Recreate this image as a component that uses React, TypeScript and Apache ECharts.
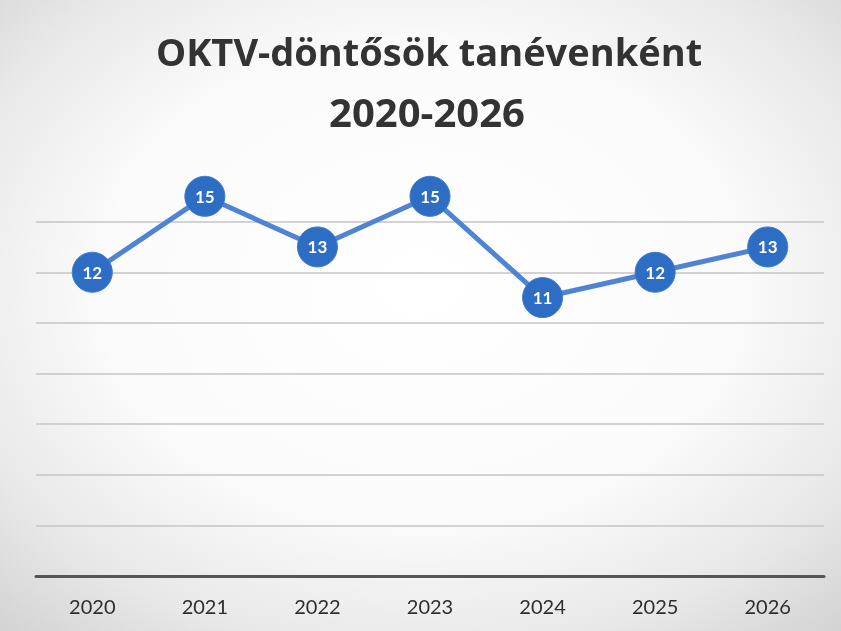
import React, { useEffect, useRef } from "react";
import * as echarts from "echarts";

const categories = ["2020", "2021", "2022", "2023", "2024", "2025", "2026"];
const values = [12, 15, 13, 15, 11, 12, 13];
const titleLines = ["OKTV-döntősök tanévenként", "2020-2026"];

export default function App() {
  const ref = useRef<HTMLDivElement>(null);
  useEffect(() => {
    if (!ref.current) return;
    const chart = echarts.init(ref.current, null, { renderer: "svg" });
    chart.setOption({
      animation: false,
      backgroundColor: {
        type: "radial",
        x: 0.5,
        y: 0.45,
        r: 0.75,
        colorStops: [
          { offset: 0, color: "#ffffff" },
          { offset: 0.5, color: "#fbfbfb" },
          { offset: 0.78, color: "#e8e8e8" },
          { offset: 1, color: "#d2d2d2" },
        ],
      },
      graphic: [
        {
          type: "text",
          x: 429,
          y: 70,
          style: {
            text: titleLines[0],
            font: 'bold 38px "Open Sans"',
            fill: "#333333",
            textAlign: "center",
            textVerticalAlign: "bottom",
          },
        },
        {
          type: "text",
          x: 427,
          y: 131,
          style: {
            text: titleLines[1],
            font: 'bold 40px "Open Sans"',
            fill: "#333333",
            textAlign: "center",
            textVerticalAlign: "bottom",
          },
        },
      ],
      grid: { left: 36, right: 17, top: 171, bottom: 55 },
      xAxis: {
        type: "category",
        data: categories,
        boundaryGap: true,
        axisLine: { lineStyle: { color: "#555555", width: 3 } },
        axisTick: { show: false },
        axisLabel: {
          fontFamily: "Lato",
          fontSize: 20,
          color: "#2e2e2e",
          margin: 20,
        },
      },
      yAxis: {
        type: "value",
        min: 0,
        max: 16,
        interval: 2,
        axisLabel: { show: false },
        axisLine: { show: false },
        axisTick: { show: false },
        splitLine: {
          lineStyle: {
            color: ["#c4c4c4", "#c4c4c4", "#c4c4c4", "#c4c4c4", "#c4c4c4", "#c4c4c4", "#c4c4c4", "#c4c4c4", "rgba(0,0,0,0)"],
            width: 1.5,
          },
        },
      },
      series: [
        {
          type: "line",
          data: values,
          symbol: "circle",
          symbolSize: 40,
          lineStyle: { color: "#4f84d4", width: 5 },
          itemStyle: { color: "#2d6ec4", borderColor: "#3f7bcd", borderWidth: 1 },
          label: {
            show: true,
            position: "inside",
            color: "#ffffff",
            fontFamily: "Lato",
            fontWeight: "bold",
            fontSize: 17,
          },
        },
      ],
    });
    return () => chart.dispose();
  }, []);
  return (
    <div
      ref={ref}
      style={{ position: "fixed", left: 0, top: 0, width: 841, height: 631 }}
    />
  );
}
